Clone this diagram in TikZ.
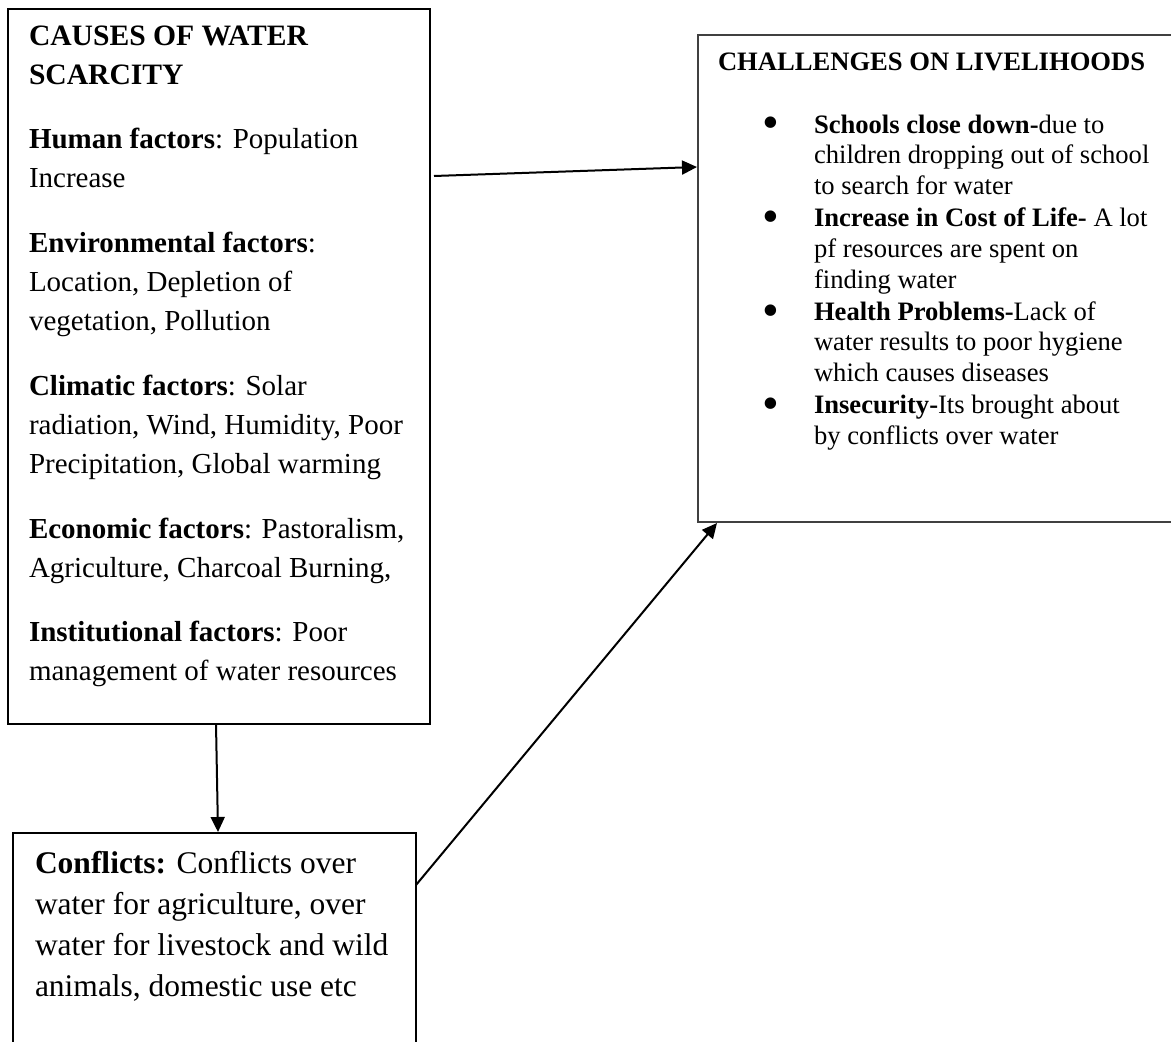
\documentclass[tikz,border=0pt]{standalone}
\usepackage{fontspec}
\setmainfont{Liberation Serif}
\usetikzlibrary{arrows.meta}
\newcommand{\bulletitem}{\leavevmode\llap{\raisebox{-0.22em}{\scalebox{1.8}{\textbullet}}\hspace{35pt}}}
\tikzset{
  box/.style={draw=black, line width=1.6pt, rectangle, inner sep=0pt, outer sep=0pt, anchor=north west},
  txt/.style={inner sep=0pt, outer sep=0pt, anchor=base west, align=left},
  conn/.style={line width=2pt, -{Triangle[length=15pt,width=14pt]}}
}
\begin{document}
\begin{tikzpicture}[x=1pt,y=-1pt]
\useasboundingbox[fill=white] (0,0) rectangle (1171,1042);
\clip (0,0) rectangle (1171,1042);
% boxes
\node[box, minimum width=422pt, minimum height=715pt] (causes) at (8,9) {};
\node[box, draw=black!75, line width=1.4pt, minimum width=520pt, minimum height=487pt] (challenges) at (698,35) {};
\node[box, minimum width=403pt, minimum height=260pt] (conflicts) at (13,833) {};
% texts
\node[txt] (causestxt) at (29,45) {\parbox[t]{420pt}{\raggedright\fontsize{29}{39.3}\selectfont
\textbf{\fontsize{29.6}{39.3}\selectfont CAUSES OF WATER}\\
\textbf{\fontsize{29.6}{39.3}\selectfont SCARCITY}\\[25pt]
\textbf{Human factors}: Population\\
Increase\\[25pt]
\textbf{Environmental factors}:\\
Location, Depletion of\\
vegetation, Pollution\\[25pt]
\textbf{Climatic factors}: Solar\\
radiation, Wind, Humidity, Poor\\
Precipitation, Global warming\\[25pt]
\textbf{Economic factors}: Pastoralism,\\
Agriculture, Charcoal Burning,\\[25pt]
\textbf{Institutional factors}: Poor\\
management of water resources}};
\node[txt] (chaltitle) at (718,70) {\fontsize{26.6}{30.7}\selectfont\textbf{CHALLENGES ON LIVELIHOODS}};
\node[txt] (chaltxt) at (814,133) {\parbox[t]{360pt}{\raggedright\fontsize{26.6}{30.7}\selectfont
\bulletitem\textbf{Schools close down-}due to\\
children dropping out of school\\
to search for water\\[1.5pt]
\bulletitem\textbf{Increase in Cost of Life-} A lot\\
pf resources are spent on\\
finding water\\[1.5pt]
\bulletitem\textbf{Health Problems-}Lack of\\
water results to poor hygiene\\
which causes diseases\\[1.5pt]
\bulletitem\textbf{Insecurity-}Its brought about\\
by conflicts over water}};
\node[txt] (conftxt) at (35,873) {\parbox[t]{400pt}{\raggedright\fontsize{31.5}{41}\selectfont
\textbf{Conflicts:} Conflicts over\\
water for agriculture, over\\
water for livestock and wild\\
animals, domestic use etc}};
% connectors
\draw[conn] ([xshift=4pt,yshift=-167pt]causes.north east) -- ([xshift=-1pt,yshift=-132pt]challenges.north west);
\draw[conn] ([xshift=208pt]causes.south west) -- ([xshift=205pt,yshift=1pt]conflicts.north west);
\draw[conn] ([yshift=-52pt]conflicts.north east) -- ([xshift=19pt,yshift=-1pt]challenges.south west);
\end{tikzpicture}
\end{document}
